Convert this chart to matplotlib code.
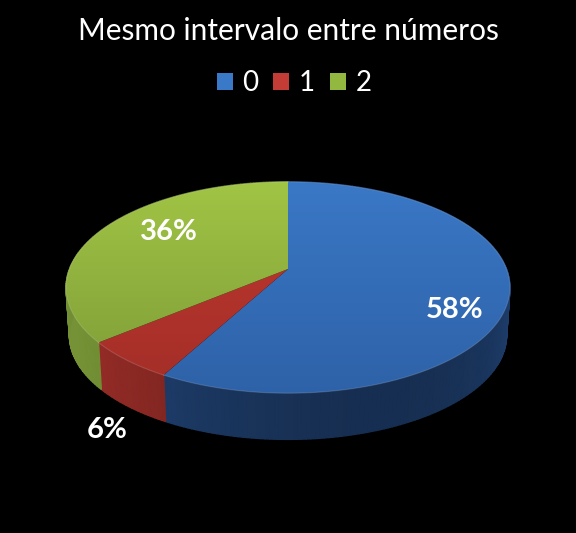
import numpy as np
import matplotlib
matplotlib.use("Agg")
import matplotlib.pyplot as plt
from matplotlib.colors import LinearSegmentedColormap
from matplotlib.patches import Patch, Polygon

title = "Mesmo intervalo entre números"
categories = ["0", "1", "2"]
values = [58, 6, 36]
labels = ["58%", "6%", "36%"]

top_light = ["#3a78c6", "#c0392f", "#a2c645"]
top_dark = ["#2e62a8", "#a32e28", "#7c9a37"]
side_color = ["#1f4070", "#8f2a25", "#6f8a33"]
legend_color = ["#3a78c8", "#c43c36", "#93b83f"]

plt.rcParams["font.family"] = ["Lato", "DejaVu Sans"]

fig = plt.figure(figsize=(5.76, 5.33), dpi=100, facecolor="black")
ax = fig.add_axes([0, 0, 1, 1])
ax.set_xlim(0, 576)
ax.set_ylim(533, 0)
ax.axis("off")

# pie is tilted with some perspective, so the apex sits above the ellipse centre
cx, cy = 288, 269
k = 0.175
a, b = 218.5, 102.5
depth = 48


def project(t, drop=0.0):
    x = np.sin(t)
    y = np.cos(t)
    d = 1 + k * y
    s = 1 - 0.015 * drop / depth
    return cx + s * a * x / d, cy - s * b * y / d + drop


edges = np.radians(np.concatenate([[0], np.cumsum(values)]) * 3.6)

# side wall, back to front
for i in range(len(values)):
    ts = np.arange(edges[i], edges[i + 1], np.radians(1))
    ts = np.append(ts, edges[i + 1])
    for t0, t1 in zip(ts[:-1], ts[1:]):
        x0, y0 = project(t0)
        x1, y1 = project(t1)
        x2, y2 = project(t1, depth)
        x3, y3 = project(t0, depth)
        # darker towards the middle right, lighter at the ends
        shade = 0.72 + 0.34 * abs(np.sin((t0 + t1) / 2 + 0.35)) ** 2
        rgb = np.array(matplotlib.colors.to_rgb(side_color[i])) * shade
        rgb = np.clip(rgb, 0, 1)
        ax.add_patch(Polygon([(x0, y0), (x1, y1), (x2, y2), (x3, y3)],
                             facecolor=rgb, edgecolor=rgb, linewidth=1.0))

# top face
for i in range(len(values)):
    ts = np.linspace(edges[i], edges[i + 1], 200)
    px, py = project(ts)
    verts = [(cx, cy)] + list(zip(px, py))
    poly = Polygon(verts, facecolor="none", edgecolor="none", transform=ax.transData)
    ax.add_patch(poly)
    cmap = LinearSegmentedColormap.from_list("c", [top_light[i], top_dark[i]])
    im = ax.imshow(np.linspace(0, 1, 256).reshape(-1, 1), cmap=cmap, aspect="auto",
                   extent=(60, 515, 395, 175), zorder=3)
    im.set_clip_path(poly)
    # thin highlight on the front rim
    ax.plot(px, py, color="white", alpha=0.15, linewidth=0.8, zorder=4)

ax.set_xlim(0, 576)
ax.set_ylim(533, 0)

ax.text(288, 31, title, color="white", fontsize=21.5, ha="center", va="center")
ax.text(455, 310, labels[0], color="white", fontsize=21, fontweight="bold", ha="center", va="center", zorder=5)
ax.text(107, 430, labels[1], color="white", fontsize=21, fontweight="bold", ha="center", va="center", zorder=5)
ax.text(169, 232, labels[2], color="white", fontsize=21, fontweight="bold", ha="center", va="center", zorder=5)

handles = [Patch(facecolor=c, edgecolor="none") for c in legend_color]
fig.legend(handles, categories, ncol=3, loc="center", bbox_to_anchor=(294 / 576, 1 - 83 / 533),
           frameon=False, labelcolor="white", fontsize=20, handlelength=0.58, handleheight=0.58,
           handletextpad=0.33, columnspacing=0.55)

fig.savefig("out.png", dpi=100, facecolor="black")
